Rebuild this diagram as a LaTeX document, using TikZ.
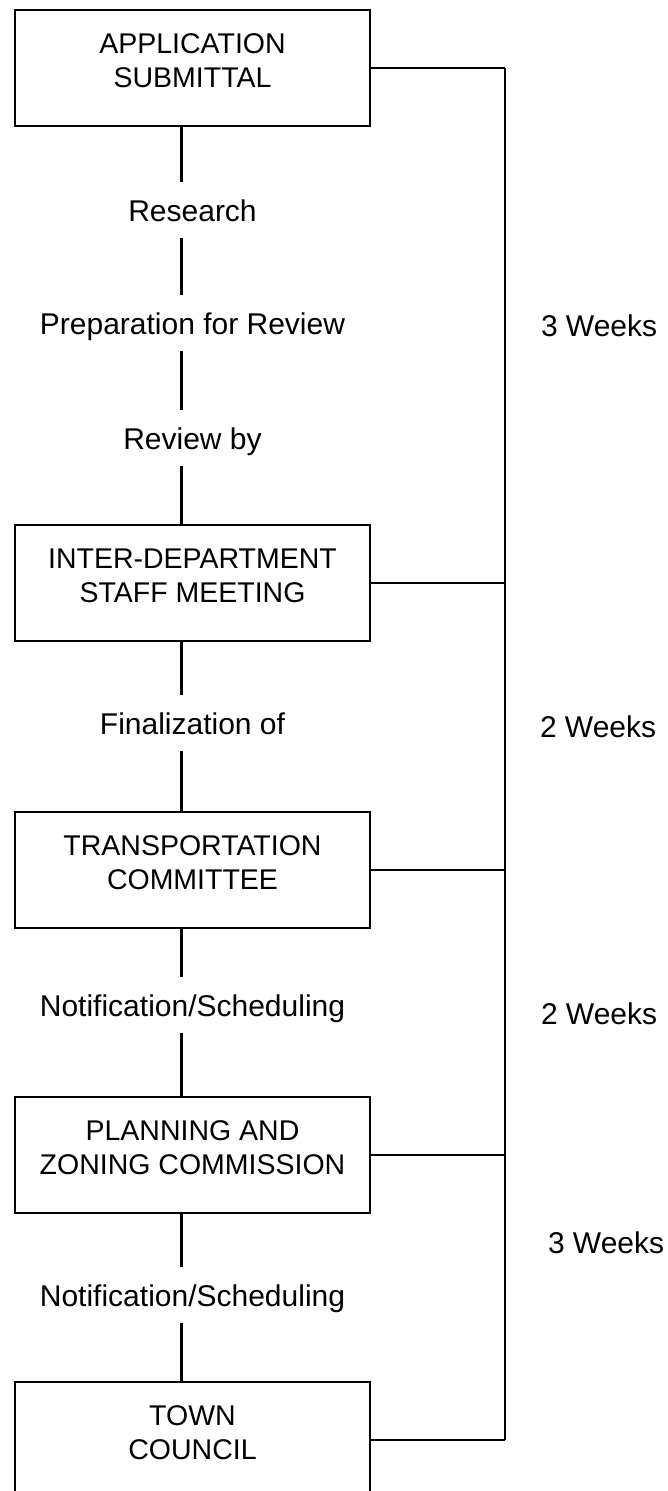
\documentclass[tikz,border=0pt]{standalone}
\usepackage{fontspec}
\setmainfont{Liberation Sans}
\usetikzlibrary{positioning}

\begin{document}
\begin{tikzpicture}[x=1pt, y=1pt, font=\fontsize{30}{36}\selectfont,
      stage/.style={draw, line width=2.5pt, minimum width=355pt, minimum height=116pt,
                    inner sep=0pt, outer sep=0pt, align=center, text depth=15pt,
                    font=\fontsize{28.5}{34}\selectfont},
      task/.style={minimum height=56pt, inner sep=0pt, outer sep=0pt,
                   text height=22pt, text depth=0pt},
      link/.style={line width=2.5pt},
      rail/.style={line width=2pt}]
    \useasboundingbox (0,0) rectangle (667,-1491);
    \node[stage] (app) at (192.5,-68) {APPLICATION\\SUBMITTAL};
    \node[task, below=56pt of app]   (res)   {Research};
    \node[task, below=57pt of res]   (prep)  {Preparation for Review};
    \node[task, below=59pt of prep]  (rev)   {Review by};
    \node[stage, below=59pt of rev]  (idm)   {INTER-DEPARTMENT\\STAFF MEETING};
    \node[task, below=54pt of idm]   (fin)   {Finalization of};
    \node[stage, below=61pt of fin]  (tc)    {TRANSPORTATION\\COMMITTEE};
    \node[task, below=49pt of tc]    (note1) {Notification/Scheduling};
    \node[stage, below=64pt of note1] (pzc)  {PLANNING AND\\ZONING COMMISSION};
    \node[task, below=54pt of pzc]   (note2) {Notification/Scheduling};
    \node[stage, below=59pt of note2] (tcl)  {TOWN\\COUNCIL};
    % time spans
    \node[task, anchor=west] (wk1) at (541,-325)  {3 Weeks};
    \node[task, anchor=west] (wk2) at (540,-726)  {2 Weeks};
    \node[task, anchor=west] (wk3) at (541,-1013) {2 Weeks};
    \node[task, anchor=west] (wk4) at (548,-1242) {3 Weeks};
    % main column
    \draw[link] ([xshift=-11pt]app.south) -- ([xshift=-11pt]res.north);
    \draw[link] ([xshift=-11pt]res.south) -- ([xshift=-11pt]prep.north);
    \draw[link] ([xshift=-11pt]prep.south) -- ([xshift=-11pt]rev.north);
    \draw[link] ([xshift=-11pt]rev.south) -- ([xshift=-11pt]idm.north);
    \draw[link] ([xshift=-11pt]idm.south) -- ([xshift=-11pt]fin.north);
    \draw[link] ([xshift=-11pt]fin.south) -- ([xshift=-11pt]tc.north);
    \draw[link] ([xshift=-11pt]tc.south) -- ([xshift=-11pt]note1.north);
    \draw[link] ([xshift=-11pt]note1.south) -- ([xshift=-11pt]pzc.north);
    \draw[link] ([xshift=-11pt]pzc.south) -- ([xshift=-11pt]note2.north);
    \draw[link] ([xshift=-11pt]note2.south) -- ([xshift=-11pt]tcl.north);
    % side rail
    \coordinate[right=135pt of app.east] (railtop);
    \coordinate[right=135pt of tcl.east] (railbot);
    \draw[rail] (railtop) -- (railbot);
    \draw[link] (app.east) -- (railtop);
    \draw[link] (idm.east) -- (idm.east -| railtop);
    \draw[link] (tc.east) -- (tc.east -| railtop);
    \draw[link] (pzc.east) -- (pzc.east -| railtop);
    \draw[link] (tcl.east) -- (railbot);
\end{tikzpicture}
\end{document}
